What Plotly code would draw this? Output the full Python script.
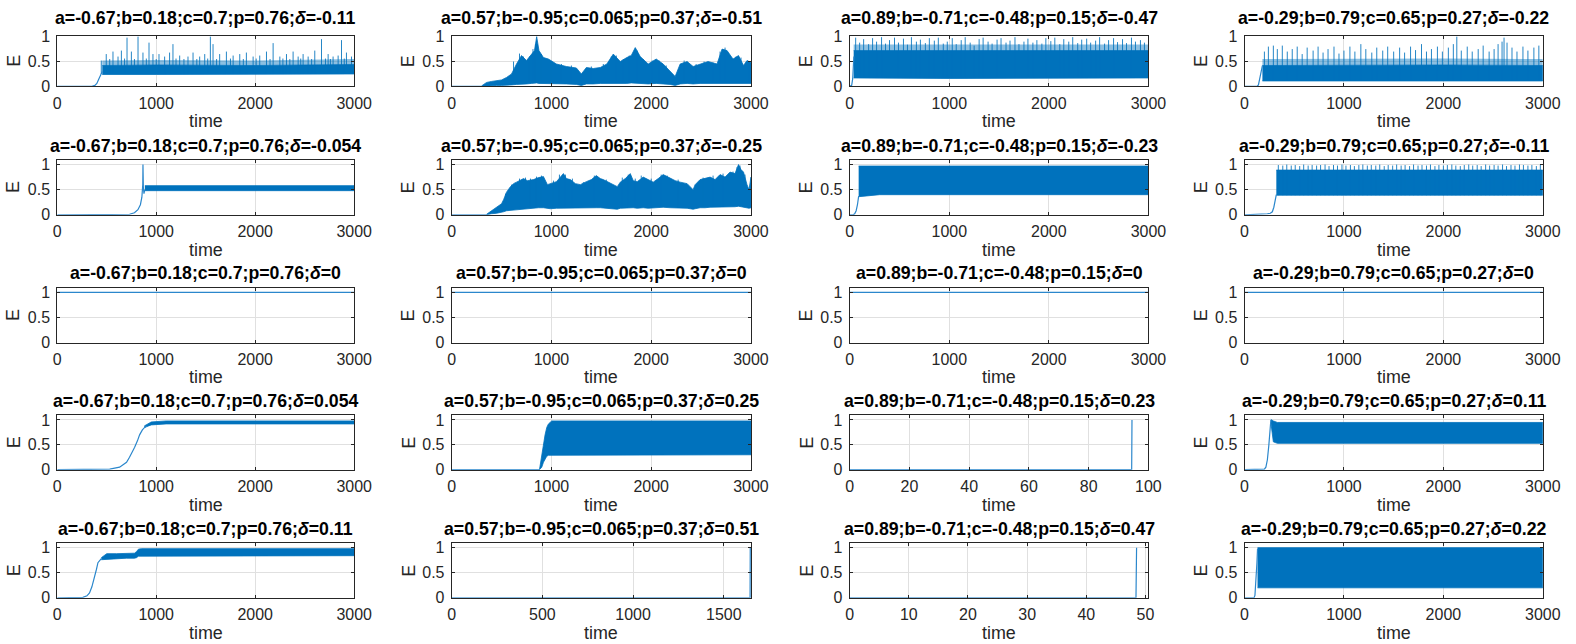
import plotly.graph_objects as go

W, H = 1576, 644
BLUE = '#0072BD'
FONT = 'Liberation Sans'

# ---------------- parameters / titles ----------------
a_vals = ['-0.67', '0.57', '0.89', '-0.29']
b_vals = ['0.18', '-0.95', '-0.71', '0.79']
c_vals = ['0.7', '0.065', '-0.48', '0.65']
p_vals = ['0.76', '0.37', '0.15', '0.27']
delta_vals = [
    ['-0.11', '-0.51', '-0.47', '-0.22'],
    ['-0.054', '-0.25', '-0.23', '-0.11'],
    ['0', '0', '0', '0'],
    ['0.054', '0.25', '0.23', '0.11'],
    ['0.11', '0.51', '0.47', '0.22'],
]
x_max = [
    [3000, 3000, 3000, 3000],
    [3000, 3000, 3000, 3000],
    [3000, 3000, 3000, 3000],
    [3000, 3000, 100, 3000],
    [3000, 1650, 50.5, 3000],
]
x_dtick = [
    [1000, 1000, 1000, 1000],
    [1000, 1000, 1000, 1000],
    [1000, 1000, 1000, 1000],
    [1000, 1000, 20, 1000],
    [1000, 500, 10, 1000],
]
y_max = [1.02, 1.09, 1.09, 1.09, 1.09]
y_ticks = [0, 0.5, 1]
y_ticktext = ['0', '0.5', '1']

# ---------------- data ----------------
# Row 1
r1c1_pre_t = [0, 300, 350, 380, 400, 420, 440, 455]
r1c1_pre_e = [0, 0, 0.003, 0.02, 0.06, 0.15, 0.26, 0.3]
r1c1_band_t = [455, 1000, 2000, 3000]
r1c1_lo = [0.24, 0.24, 0.24, 0.25]
r1c1_hi = [0.42, 0.43, 0.42, 0.44]
r1c1_haze = [0.52, 0.53, 0.52, 0.55]
r1c1_spk_t = [445, 495, 530, 563, 614, 648, 680, 705, 749, 780,
              816, 866, 900, 927, 967, 1000, 1028, 1085, 1135, 1169,
              1200, 1237, 1280, 1321, 1372, 1410, 1439, 1490, 1520, 1547,
              1574, 1610, 1641, 1709, 1750, 1777, 1844, 1880, 1911, 1979,
              2010, 2046, 2114, 2150, 2181, 2249, 2280, 2316, 2350, 2383,
              2434, 2460, 2484, 2535, 2570, 2602, 2670, 2710, 2737, 2760,
              2787, 2838, 2872, 2900, 2922, 2973]
r1c1_spk_e = [0.52, 0.65, 0.55, 0.7, 0.6, 0.72, 0.56, 0.98, 0.7, 0.55,
              1.0, 0.68, 0.56, 0.88, 0.65, 0.55, 0.65, 0.6, 0.68, 0.85,
              0.56, 0.62, 0.55, 0.6, 0.68, 0.55, 0.6, 0.65, 0.56, 1.0,
              0.85, 0.55, 0.65, 0.7, 0.56, 0.62, 0.65, 0.55, 0.68, 0.6,
              0.56, 0.62, 0.7, 0.55, 0.87, 0.6, 0.56, 0.65, 0.55, 0.7,
              0.6, 0.56, 0.65, 0.6, 0.55, 0.72, 0.95, 0.56, 0.65, 0.55,
              0.6, 0.62, 0.93, 0.56, 0.68, 0.6]

r1c2_pre_t = [0, 300]
r1c2_pre_e = [0, 0]
r1c2_band_t = [300, 350, 400, 450, 500, 550, 600, 650, 700, 750,
               800, 830, 852, 875, 920, 970, 1050, 1150, 1250, 1300,
               1350, 1420, 1490, 1555, 1620, 1690, 1755, 1800, 1840, 1890,
               1970, 2050, 2120, 2190, 2240, 2290, 2360, 2420, 2490, 2570,
               2660, 2710, 2760, 2820, 2875, 2925, 2960, 3000]
r1c2_hi = [0.01, 0.08, 0.1, 0.12, 0.13, 0.18, 0.25, 0.45, 0.62, 0.52,
           0.65, 0.72, 1.0, 0.72, 0.58, 0.55, 0.45, 0.4, 0.37, 0.25,
           0.38, 0.36, 0.38, 0.45, 0.65, 0.5, 0.58, 0.62, 0.78, 0.6,
           0.45, 0.55, 0.45, 0.3, 0.2, 0.45, 0.5, 0.4, 0.45, 0.5,
           0.45, 0.75, 0.72, 0.55, 0.62, 0.42, 0.52, 0.48]
r1c2_lo = [0.0, 0.01, 0.015, 0.02, 0.02, 0.02, 0.03, 0.04, 0.05, 0.05,
           0.06, 0.06, 0.07, 0.06, 0.06, 0.06, 0.05, 0.05, 0.04, 0.02,
           0.05, 0.05, 0.06, 0.06, 0.07, 0.06, 0.06, 0.07, 0.07, 0.06,
           0.05, 0.06, 0.05, 0.04, 0.02, 0.05, 0.06, 0.05, 0.06, 0.06,
           0.06, 0.07, 0.07, 0.06, 0.06, 0.06, 0.06, 0.06]
r1c2_spk_t = [620, 680, 720, 780, 815, 840, 900, 1000, 1100, 1200,
              1400, 1520, 1600, 1650, 1720, 1780, 1860, 1920, 2010, 2080,
              2150, 2330, 2450, 2530, 2620, 2690, 2740, 2790, 2850, 2900, 2980]
r1c2_spk_e = [0.5, 0.66, 0.6, 0.6, 0.75, 0.85, 0.65, 0.5, 0.45, 0.42,
              0.4, 0.45, 0.6, 0.62, 0.55, 0.62, 0.72, 0.55, 0.52, 0.52,
              0.42, 0.52, 0.45, 0.5, 0.48, 0.7, 0.78, 0.6, 0.6, 0.58, 0.5]

r1c3_pre_t = [0, 20, 30, 38, 42]
r1c3_pre_e = [0, 0.02, 0.15, 0.5, 0.6]
r1c3_band_t = [40, 1000, 2000, 3000]
r1c3_lo = [0.17, 0.16, 0.16, 0.17]
r1c3_hi = [0.72, 0.72, 0.72, 0.72]
r1c3_haze = [0.84, 0.84, 0.84, 0.84]
r1c3_spk_t = [60, 100, 140, 190, 230, 270, 320, 360, 400,
              450, 490, 540, 580, 620, 670, 710, 760, 800,
              850, 890, 940, 980, 1030, 1070, 1120, 1160, 1210,
              1250, 1300, 1340, 1390, 1430, 1480, 1520, 1570, 1610,
              1660, 1700, 1750, 1790, 1840, 1880, 1930, 1970, 2020,
              2060, 2110, 2150, 2200, 2240, 2290, 2330, 2380, 2420,
              2470, 2510, 2560, 2600, 2650, 2690, 2740, 2780, 2830,
              2870, 2920, 2960]
r1c3_spk_e = [0.98, 0.88, 0.95, 0.85, 0.97, 0.9, 0.99, 0.86, 0.93,
              0.98, 0.88, 0.96, 0.84, 0.99, 0.9, 0.94, 0.87, 0.97,
              0.92, 0.98, 0.86, 0.9, 0.97, 0.85, 0.93, 0.99, 0.88,
              0.82, 0.95, 0.98, 0.9, 0.86, 0.94, 0.97, 0.88, 0.92,
              0.99, 0.85, 0.9, 0.96, 0.88, 0.93, 0.86, 0.97, 0.91,
              0.98, 0.85, 0.95, 0.9, 0.99, 0.87, 0.94, 0.96, 0.88,
              0.92, 0.99, 0.86, 0.93, 0.97, 0.89, 0.95, 0.87, 0.98,
              0.9, 0.93, 0.88]

r1c4_pre_t = [0, 125, 140, 155, 168, 180]
r1c4_pre_e = [0, 0, 0.03, 0.15, 0.3, 0.42]
r1c4_band_t = [180, 1000, 2000, 3000]
r1c4_lo = [0.11, 0.11, 0.11, 0.11]
r1c4_hi = [0.42, 0.43, 0.43, 0.42]
r1c4_haze = [0.55, 0.56, 0.56, 0.55]
r1c4_spk_t = [200, 240, 290, 330, 380, 430, 480, 530, 580, 630,
              690, 740, 790, 840, 900, 950, 1000, 1060, 1110, 1170,
              1220, 1280, 1330, 1390, 1440, 1500, 1560, 1610, 1670, 1720,
              1780, 1830, 1880, 1940, 1990, 2050, 2100, 2135, 2180, 2240,
              2290, 2350, 2400, 2460, 2510, 2550, 2590, 2610, 2640, 2690,
              2740, 2800, 2850, 2910, 2960]
r1c4_spk_e = [0.7, 0.8, 0.82, 0.75, 0.82, 0.7, 0.75, 0.8, 0.65, 0.78,
              0.72, 0.8, 0.68, 0.75, 0.8, 0.66, 0.72, 0.8, 0.7, 0.85,
              0.75, 0.68, 0.78, 0.72, 0.8, 0.7, 0.78, 0.68, 0.8, 0.73,
              0.85, 0.7, 0.75, 0.8, 0.7, 0.78, 0.85, 1.0, 0.72, 0.8,
              0.7, 0.75, 0.82, 0.7, 0.75, 0.85, 0.9, 0.98, 0.88, 0.78,
              0.7, 0.8, 0.72, 0.78, 0.82]

# Row 2
r2c1_pre_t = [0, 650, 730, 780, 815, 840, 855, 864, 866, 870, 876, 885]
r2c1_pre_e = [0, 0, 0.01, 0.04, 0.1, 0.2, 0.35, 0.6, 1.0, 0.55, 0.42, 0.5]
r2c1_band_t = [885, 3000]
r2c1_lo = [0.48, 0.48]
r2c1_hi = [0.58, 0.58]

r2c2_pre_t = [0, 350]
r2c2_pre_e = [0, 0]
r2c2_band_t = [350, 400, 450, 500, 520, 550, 585, 620, 650, 700,
               720, 760, 820, 870, 920, 960, 990, 1050, 1090, 1120,
               1150, 1190, 1240, 1290, 1350, 1400, 1450, 1490, 1520, 1570,
               1620, 1660, 1690, 1740, 1790, 1820, 1860, 1920, 1970, 2020,
               2070, 2120, 2190, 2240, 2290, 2360, 2420, 2440, 2490, 2540,
               2590, 2640, 2690, 2740, 2790, 2840, 2875, 2900, 2925, 2960,
               2980, 3000]
r2c2_hi = [0.01, 0.08, 0.15, 0.22, 0.3, 0.45, 0.55, 0.62, 0.65, 0.7,
           0.72, 0.68, 0.7, 0.74, 0.76, 0.6, 0.62, 0.66, 0.75, 0.82,
           0.72, 0.7, 0.62, 0.6, 0.66, 0.7, 0.78, 0.72, 0.7, 0.65,
           0.6, 0.56, 0.65, 0.72, 0.82, 0.68, 0.66, 0.75, 0.7, 0.65,
           0.72, 0.8, 0.73, 0.68, 0.65, 0.62, 0.5, 0.6, 0.7, 0.72,
           0.75, 0.7, 0.8, 0.75, 0.85, 0.82, 1.0, 0.9, 0.85, 0.6,
           0.5, 0.75]
r2c2_lo = [0.0, 0.02, 0.03, 0.05, 0.06, 0.08, 0.09, 0.1, 0.11, 0.12,
           0.12, 0.13, 0.13, 0.14, 0.14, 0.13, 0.12, 0.13, 0.14, 0.14,
           0.14, 0.13, 0.13, 0.13, 0.14, 0.14, 0.14, 0.14, 0.14, 0.13,
           0.12, 0.11, 0.13, 0.14, 0.14, 0.14, 0.13, 0.14, 0.13, 0.14,
           0.14, 0.15, 0.14, 0.14, 0.13, 0.13, 0.11, 0.12, 0.14, 0.14,
           0.15, 0.15, 0.15, 0.16, 0.16, 0.16, 0.17, 0.16, 0.15, 0.14,
           0.13, 0.14]
r2c2_spk_t = [540, 600, 680, 740, 790, 850, 900, 1020, 1080, 1140,
              1210, 1320, 1430, 1550, 1710, 1770, 1840, 1900, 2000, 2100,
              2160, 2270, 2520, 2620, 2720, 2820, 2860, 2890, 2940]
r2c2_spk_e = [0.42, 0.6, 0.72, 0.74, 0.72, 0.76, 0.78, 0.68, 0.8, 0.8,
              0.72, 0.65, 0.78, 0.7, 0.74, 0.8, 0.72, 0.78, 0.72, 0.8,
              0.78, 0.7, 0.74, 0.78, 0.82, 0.86, 0.95, 0.98, 0.8]

r2c3_pre_t = [0, 35, 50, 65, 78, 90]
r2c3_pre_e = [0, 0, 0.02, 0.08, 0.2, 0.37]
r2c3_band_t = [90, 300, 3000]
r2c3_lo = [0.36, 0.4, 0.4]
r2c3_hi = [0.97, 0.97, 0.97]

r2c4_pre_t = [0, 120, 180, 230, 260, 280, 295, 310, 320]
r2c4_pre_e = [0, 0.005, 0.01, 0.02, 0.03, 0.06, 0.15, 0.3, 0.4]
r2c4_band_t = [320, 3000]
r2c4_lo = [0.39, 0.39]
r2c4_hi = [0.89, 0.89]
r2c4_spk_t = [340, 385, 425, 470, 510, 555, 595, 640, 680, 725,
              765, 810, 850, 895, 935, 980, 1020, 1065, 1105, 1150,
              1190, 1235, 1275, 1320, 1360, 1405, 1445, 1490, 1530, 1575,
              1615, 1660, 1700, 1745, 1785, 1830, 1870, 1915, 1955, 2000,
              2040, 2085, 2125, 2170, 2210, 2255, 2295, 2340, 2380, 2425,
              2465, 2510, 2550, 2595, 2635, 2680, 2720, 2765, 2805, 2850,
              2890, 2935, 2975]
r2c4_spk_e = [0.99, 0.98, 1.0, 0.98, 0.99, 0.97, 1.0, 0.98, 0.99, 0.98,
              0.99, 1.0, 0.97, 0.99, 0.98, 1.0, 0.98, 0.99, 0.97, 0.99,
              1.0, 0.98, 0.99, 0.98, 1.0, 0.97, 0.99, 0.98, 1.0, 0.98,
              0.99, 0.97, 1.0, 0.98, 0.99, 0.98, 1.0, 0.97, 0.99, 0.98,
              0.99, 1.0, 0.98, 0.97, 0.99, 1.0, 0.98, 0.99, 0.97, 1.0,
              0.98, 0.99, 0.98, 1.0, 0.97, 0.99, 0.98, 1.0, 0.99, 0.98,
              0.99, 0.97, 1.0]

# Row 3 (delta = 0): constant E = 1
r3_t = [0, 3000]
r3_e = [1, 1]

# Row 4
r4c1_pre_t = [0, 450, 530, 630, 700, 730, 760, 782, 810, 832, 860, 883, 910]
r4c1_pre_e = [0, 0, 0.01, 0.05, 0.15, 0.25, 0.36, 0.45, 0.58, 0.7, 0.8, 0.85, 0.88]
r4c1_band_t = [880, 950, 1100, 3000]
r4c1_lo = [0.85, 0.9, 0.92, 0.92]
r4c1_hi = [0.88, 0.96, 0.98, 0.98]

r4c2_pre_t = [0, 880]
r4c2_pre_e = [0, 0]
r4c2_band_t = [880, 903, 920, 936, 953, 970, 1003, 3000]
r4c2_lo = [0, 0.05, 0.15, 0.22, 0.27, 0.29, 0.3, 0.3]
r4c2_hi = [0, 0.3, 0.55, 0.7, 0.85, 0.92, 0.98, 0.98]

r4c3_t = [0, 94.4, 94.5]
r4c3_e = [0, 0, 1.0]

r4c4_pre_t = [0, 180, 200, 215, 230, 245, 258, 265]
r4c4_pre_e = [0, 0, 0.01, 0.05, 0.2, 0.5, 0.85, 1.0]
r4c4_band_t = [265, 290, 330, 3000]
r4c4_lo = [0.95, 0.56, 0.53, 0.53]
r4c4_hi = [1.01, 0.98, 0.95, 0.95]

# Row 5
r5c1_pre_t = [0, 200, 259, 300, 326, 350, 377, 395, 411, 430, 445]
r5c1_pre_e = [0, 0, 0.01, 0.04, 0.1, 0.22, 0.4, 0.56, 0.7, 0.76, 0.78]
r5c1_band_t = [445, 500, 600, 700, 780, 800, 820, 850, 1000, 3000]
r5c1_lo = [0.76, 0.78, 0.78, 0.79, 0.79, 0.8, 0.83, 0.84, 0.84, 0.84]
r5c1_hi = [0.8, 0.88, 0.88, 0.89, 0.89, 0.92, 0.97, 0.98, 0.98, 0.98]

r5c2_t = [0, 1645, 1646]
r5c2_e = [0, 0, 1.0]

r5c3_t = [0, 48.4, 48.5]
r5c3_e = [0, 0, 1.0]

r5c4_pre_t = [0, 95, 105, 115, 125, 131]
r5c4_pre_e = [0, 0, 0.05, 0.3, 0.7, 0.98]
r5c4_band_t = [131, 3000]
r5c4_lo = [0.2, 0.2]
r5c4_hi = [1.0, 1.0]

panels = {
    (0, 0): dict(pre=(r1c1_pre_t, r1c1_pre_e), band=(r1c1_band_t, r1c1_lo, r1c1_hi), haze=r1c1_haze,
                 spk=(r1c1_spk_t, r1c1_spk_e)),
    (0, 1): dict(pre=(r1c2_pre_t, r1c2_pre_e), band=(r1c2_band_t, r1c2_lo, r1c2_hi),
                 spk=(r1c2_spk_t, r1c2_spk_e)),
    (0, 2): dict(pre=(r1c3_pre_t, r1c3_pre_e), band=(r1c3_band_t, r1c3_lo, r1c3_hi), haze=r1c3_haze,
                 spk=(r1c3_spk_t, r1c3_spk_e)),
    (0, 3): dict(pre=(r1c4_pre_t, r1c4_pre_e), band=(r1c4_band_t, r1c4_lo, r1c4_hi), haze=r1c4_haze,
                 spk=(r1c4_spk_t, r1c4_spk_e)),
    (1, 0): dict(pre=(r2c1_pre_t, r2c1_pre_e), band=(r2c1_band_t, r2c1_lo, r2c1_hi)),
    (1, 1): dict(pre=(r2c2_pre_t, r2c2_pre_e), band=(r2c2_band_t, r2c2_lo, r2c2_hi),
                 spk=(r2c2_spk_t, r2c2_spk_e)),
    (1, 2): dict(pre=(r2c3_pre_t, r2c3_pre_e), band=(r2c3_band_t, r2c3_lo, r2c3_hi)),
    (1, 3): dict(pre=(r2c4_pre_t, r2c4_pre_e), band=(r2c4_band_t, r2c4_lo, r2c4_hi),
                 spk=(r2c4_spk_t, r2c4_spk_e)),
    (2, 0): dict(pre=(r3_t, r3_e)),
    (2, 1): dict(pre=(r3_t, r3_e)),
    (2, 2): dict(pre=(r3_t, r3_e)),
    (2, 3): dict(pre=(r3_t, r3_e)),
    (3, 0): dict(pre=(r4c1_pre_t, r4c1_pre_e), band=(r4c1_band_t, r4c1_lo, r4c1_hi)),
    (3, 1): dict(pre=(r4c2_pre_t, r4c2_pre_e), band=(r4c2_band_t, r4c2_lo, r4c2_hi)),
    (3, 2): dict(pre=(r4c3_t, r4c3_e)),
    (3, 3): dict(pre=(r4c4_pre_t, r4c4_pre_e), band=(r4c4_band_t, r4c4_lo, r4c4_hi)),
    (4, 0): dict(pre=(r5c1_pre_t, r5c1_pre_e), band=(r5c1_band_t, r5c1_lo, r5c1_hi)),
    (4, 1): dict(pre=(r5c2_t, r5c2_e)),
    (4, 2): dict(pre=(r5c3_t, r5c3_e)),
    (4, 3): dict(pre=(r5c4_pre_t, r5c4_pre_e), band=(r5c4_band_t, r5c4_lo, r5c4_hi)),
}

# ---------------- layout geometry (target pixels) ----------------
col_l = [57.7, 451.7, 849.3, 1243.7]
col_r = [354.3, 750.7, 1147.7, 1541.7]
row_t = [32.3, 157.3, 285.8, 414.0, 542.3]
row_b = [83.3, 212.3, 340.8, 468.5, 597.3]
title_yc = [15.0, 143.0, 271.0, 399.5, 528.5]

# the captured page comes out slightly reduced and offset; pre-compensate
SX, OX = 0.985, 4.5
SY, OY = 0.980, 3.5
SF = (SX + SY) / 2


def fx(px):
    return (px - OX) / SX / W


def fy(py):
    return 1 - (py - OY) / SY / H


def fs(size):
    return size / SF


fig = go.Figure()
layout = dict(width=W, height=H, margin=dict(l=0, r=0, t=0, b=0),
              paper_bgcolor='white', plot_bgcolor='white', showlegend=False,
              font=dict(family=FONT, color='#262626'))
annotations = []

for r in range(5):
    for c in range(4):
        k = r * 4 + c + 1
        xa = 'x' if k == 1 else f'x{k}'
        ya = 'y' if k == 1 else f'y{k}'
        p = panels[(r, c)]
        if 'band' in p:
            bt, lo, hi = p['band']
            if 'haze' in p:
                hz = p['haze']
                fig.add_trace(go.Scatter(x=bt + bt[::-1], y=hz + hi[::-1], xaxis=xa, yaxis=ya,
                                         mode='lines', line=dict(width=0), fill='toself',
                                         fillcolor='rgba(0,114,189,0.45)', hoverinfo='skip'))
            fig.add_trace(go.Scatter(x=bt + bt[::-1], y=hi + lo[::-1], xaxis=xa, yaxis=ya,
                                     mode='lines', line=dict(width=0.8, color=BLUE), fill='toself',
                                     fillcolor=BLUE, hoverinfo='skip'))
        if 'spk' in p:
            st, se = p['spk']
            base = max(p['band'][1])
            sx, sy = [], []
            for t, e in zip(st, se):
                sx += [t, t, None]
                sy += [base, e, None]
            fig.add_trace(go.Scatter(x=sx, y=sy, xaxis=xa, yaxis=ya, mode='lines',
                                     line=dict(width=1, color=BLUE), opacity=0.85, hoverinfo='skip'))
        pt, pe = p['pre']
        fig.add_trace(go.Scatter(x=pt, y=pe, xaxis=xa, yaxis=ya, mode='lines',
                                 line=dict(width=1.2, color='#2B87CC'), hoverinfo='skip'))

        axcommon = dict(showline=True, mirror='ticks', linecolor='#262626', linewidth=1,
                        ticks='inside', ticklen=3, tickcolor='#262626', showgrid=True,
                        gridcolor='#E0E0E0', gridwidth=1, zeroline=False,
                        tickfont=dict(family=FONT, size=fs(15.7), color='#262626'))
        layout['xaxis' if k == 1 else f'xaxis{k}'] = dict(
            domain=[fx(col_l[c]), fx(col_r[c])], anchor=ya, range=[0, x_max[r][c]],
            tick0=0, dtick=x_dtick[r][c], ticklabelstandoff=2, **axcommon)
        layout['yaxis' if k == 1 else f'yaxis{k}'] = dict(
            domain=[fy(row_b[r]), fy(row_t[r])], anchor=xa, range=[0, y_max[r]],
            tickvals=y_ticks, ticktext=y_ticktext, ticklabelstandoff=3, **axcommon)

        xc = (col_l[c] + col_r[c]) / 2
        title = (f"<b>a={a_vals[c]};b={b_vals[c]};c={c_vals[c]};p={p_vals[c]};"
                 f"<i>δ</i>={delta_vals[r][c]}</b>")
        annotations.append(dict(text=title, x=fx(xc), y=fy(title_yc[r]), xref='paper', yref='paper',
                                xanchor='center', yanchor='middle', showarrow=False,
                                font=dict(family=FONT, size=fs(17.4), color='black')))
        annotations.append(dict(text='time', x=fx(xc), y=fy(row_b[r] + 35), xref='paper', yref='paper',
                                xanchor='center', yanchor='middle', showarrow=False,
                                font=dict(family=FONT, size=fs(17.6), color='#262626')))
        annotations.append(dict(text='E', x=fx(col_l[c] - 43.5), y=fy((row_t[r] + row_b[r]) / 2),
                                xref='paper', yref='paper', textangle=-90,
                                xanchor='center', yanchor='middle', showarrow=False,
                                font=dict(family=FONT, size=fs(17.6), color='#262626')))

layout['annotations'] = annotations
fig.update_layout(**layout)
fig.write_html(
    'out.html', config={'displayModeBar': False},
    post_script=("document.documentElement.style.margin='0';document.documentElement.style.overflow='hidden';"
                 "document.body.style.margin='0';document.body.style.overflow='hidden';"
                 "var gd=document.getElementById('{plot_id}');gd.style.position='fixed';"
                 "gd.style.left='0px';gd.style.top='0px';"))
